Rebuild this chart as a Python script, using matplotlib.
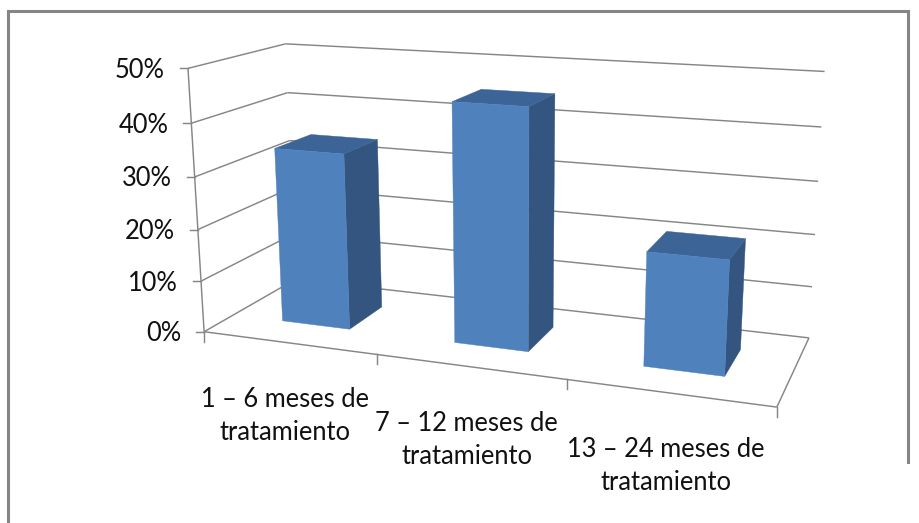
import numpy as np
import matplotlib
matplotlib.use("Agg")
import matplotlib.pyplot as plt
from matplotlib.patches import Polygon

# ---- data -------------------------------------------------------------
categories = ["1 – 6 meses de\ntratamiento",
              "7 – 12 meses de\ntratamiento",
              "13 – 24 meses de\ntratamiento"]
values = [34, 45, 21]                      # percent
value_ticks = [0, 10, 20, 30, 40, 50]
value_tick_labels = ["0%", "10%", "20%", "30%", "40%", "50%"]

# ---- figure -----------------------------------------------------------
W, H = 920, 523
fig = plt.figure(figsize=(W / 100, H / 100), dpi=100)
ax = fig.add_axes([0, 0, 1, 1])
ax.set_xlim(0, W)
ax.set_ylim(H, 0)
ax.axis("off")

FONT = "Lato"
FS = 18.4
GRID = "#868686"
FRONT = "#4f81bd"
SIDE = "#33557f"
TOP = "#3c6497"

# ---- perspective camera -------------------------------------------------
# World space: x runs along the categories (0..3), y is depth (0 front,
# 1 back), z is the value in percent.  The camera matrix is solved from
# where the corners of the chart box sit on the canvas.
n_cat = len(categories)
zmax = value_ticks[-1]
box_world = np.array([
    (0, 0, 0), (0, 0, zmax), (0, 0, 10), (0, 0, 40),
    (1, 0, 0), (2, 0, 0), (n_cat, 0, 0),
    (n_cat, 1, 0), (n_cat, 1, zmax), (n_cat, 1, 40),
    (0, 1, zmax), (0, 1, 40),
], dtype=float)
box_canvas = np.array([
    (204.3, 331.7), (189.3, 68.3), (201.0, 282.3), (190.0, 122.7),
    (376.7, 353.0), (567.3, 380.0), (776.5, 407.5),
    (809.0, 337.7), (824.3, 71.7), (821.7, 126.7),
    (285.0, 44.0), (288.0, 92.7),
])

SCALE = 500.0


def solve_camera(world, canvas):
    rows = []
    for (X, Y, Z), (u, v) in zip(world, canvas):
        Z = Z / zmax
        u, v = u / SCALE, v / SCALE
        rows.append([X, Y, Z, 1, 0, 0, 0, 0, -u * X, -u * Y, -u * Z, -u])
        rows.append([0, 0, 0, 0, X, Y, Z, 1, -v * X, -v * Y, -v * Z, -v])
    _, _, vt = np.linalg.svd(np.array(rows))
    return vt[-1].reshape(3, 4)


CAM = solve_camera(box_world, box_canvas)


def proj(x, y, z):
    h = CAM @ np.array([x, y, z / zmax, 1.0])
    return h[0] / h[2] * SCALE, h[1] / h[2] * SCALE


def line3d(p, q, **kw):
    a, b = proj(*p), proj(*q)
    ax.plot([a[0], b[0]], [a[1], b[1]], color=GRID, lw=1.05,
            solid_capstyle="butt", **kw)


def face(pts, color, z):
    ax.add_patch(Polygon([proj(*p) for p in pts], closed=True,
                         facecolor=color, edgecolor=color, lw=0.3,
                         zorder=z))


# ---- walls, floor and gridlines ---------------------------------------
for t in value_ticks:
    line3d((0, 0, t), (0, 1, t))          # side wall
    line3d((0, 1, t), (n_cat, 1, t))      # back wall
line3d((0, 0, 0), (0, 0, zmax))           # value axis
line3d((0, 0, 0), (n_cat, 0, 0))          # floor front edge
line3d((n_cat, 0, 0), (n_cat, 1, 0))      # floor right edge

# value ticks and labels
for t, lab in zip(value_ticks, value_tick_labels):
    px, py = proj(0, 0, t)
    ax.plot([px - 8, px], [py, py], color=GRID, lw=1.05)
    ax.text(px - 23, py + 2, lab, ha="right", va="center",
            fontsize=FS, family=FONT, color="#111111")

# category ticks and labels
for c in range(n_cat + 1):
    px, py = proj(c, 0, 0)
    ax.plot([px, px], [py, py + 10], color=GRID, lw=1.05)
for i, lab in enumerate(categories):
    px, py = proj(i + 0.5, 0, 0)
    ax.text(px - 3, py + 44, lab, ha="center", va="top", fontsize=FS,
            family=FONT, color="#111111", linespacing=1.42)

# ---- bars --------------------------------------------------------------
gap = 0.3
for i, v in enumerate(values):
    x0, x1 = i + gap, i + 1 - gap
    y0, y1 = gap, 1 - gap
    z = 5 + i
    face([(x1, y0, 0), (x1, y1, 0), (x1, y1, v), (x1, y0, v)], SIDE, z)
    face([(x0, y0, v), (x1, y0, v), (x1, y1, v), (x0, y1, v)], TOP, z)
    face([(x0, y0, 0), (x1, y0, 0), (x1, y0, v), (x0, y0, v)], FRONT, z)

# ---- chart border --------------------------------------------------------
ax.plot([8, 8, 908, 908], [H, 11, 11, 462], color="#858585", lw=2.2,
        solid_joinstyle="miter")

fig.savefig("out.png", dpi=100)
